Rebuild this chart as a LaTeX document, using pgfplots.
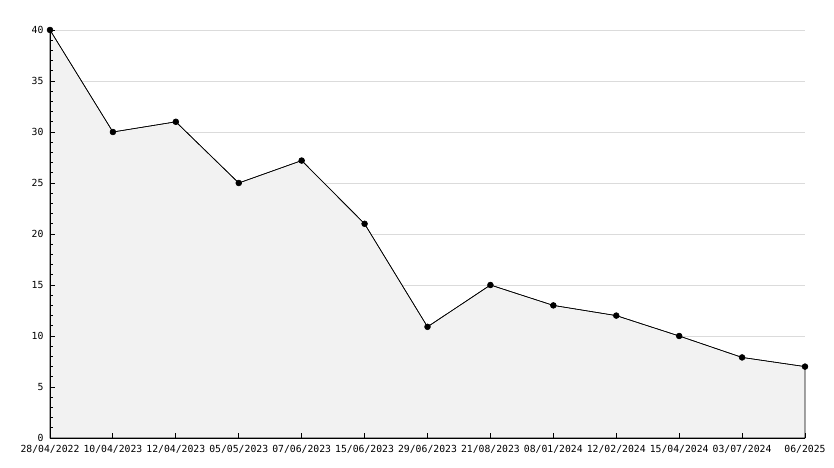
\documentclass[border=0pt]{standalone}
\usepackage{fontspec}
\setmainfont{DejaVu Sans Mono}
\usepackage{pgfplots}
\pgfplotsset{compat=1.18}
\begin{document}
\begin{tikzpicture}
\path[use as bounding box] (-50bp,-30bp) rectangle (784bp,438bp);
% grid layer (under the fill)
\begin{axis}[
  at={(0,0)}, anchor=origin,
  scale only axis, width=755bp, height=408bp,
  xmin=0, xmax=12, ymin=0, ymax=40,
  axis line style={draw=none},
  xtick=\empty, ytick={5,10,...,40},
  yticklabels={}, major tick length=0pt,
  ymajorgrids, grid style={draw=black!14, line width=0.8bp},
]
\end{axis}
\begin{axis}[
  at={(0,0)}, anchor=origin,
  scale only axis, width=755bp, height=408bp,
  xmin=0, xmax=12, ymin=0, ymax=40,
  axis on top,
  axis lines=left, axis line style={-, black, line width=0.9bp},
  xtick={0,...,12},
  xticklabels={28/04/2022,10/04/2023,12/04/2023,05/05/2023,07/06/2023,15/06/2023,29/06/2023,21/08/2023,08/01/2024,12/02/2024,15/04/2024,03/07/2024,06/2025},
  ytick={0,5,...,40},
  minor y tick num=4,
  tick align=inside,
  major tick length=5bp, minor tick length=3.5bp,
  every tick/.style={black, line width=0.9bp},
  tick label style={font=\fontsize{9.8}{11}\selectfont},
  xticklabel style={yshift=-3.5bp},
  yticklabel style={xshift=-3bp},
  /pgf/number format/assume math mode=true,
  clip=false,
]
\addplot[draw=black, line width=0.6bp, fill=black!5] coordinates {
(0,40) (1,30) (2,31) (3,25) (4,27.2) (5,21) (6,10.9) (7,15) (8,13) (9,12) (10,10) (11,7.9) (12,7)
} \closedcycle;
\addplot[black, line width=0.6bp, mark=*, mark size=2.9bp] coordinates {
(0,40) (1,30) (2,31) (3,25) (4,27.2) (5,21) (6,10.9) (7,15) (8,13) (9,12) (10,10) (11,7.9) (12,7)
};
\end{axis}
\end{tikzpicture}
\end{document}
